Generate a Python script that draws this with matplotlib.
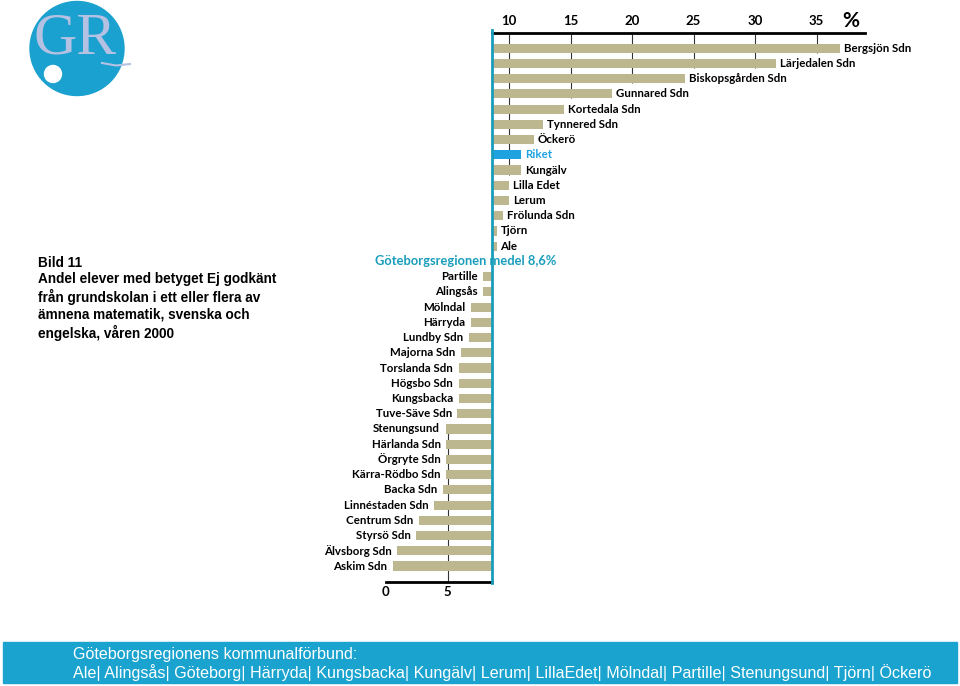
import numpy as np
import matplotlib.pyplot as plt
from matplotlib.patches import Circle, Rectangle

# values in % (pupils without pass grade)
top_names = ['Bergsjön Sdn', 'Lärjedalen Sdn', 'Biskopsgården Sdn', 'Gunnared Sdn',
             'Kortedala Sdn', 'Tynnered Sdn', 'Öckerö', 'Riket', 'Kungälv',
             'Lilla Edet', 'Lerum', 'Frölunda Sdn', 'Tjörn', 'Ale']
top_vals = [36.9, 31.7, 24.3, 18.4, 14.5, 12.8, 12.0, 11.0, 11.0, 10.0, 10.0, 9.5, 9.0, 9.0]

low_names = ['Partille', 'Alingsås', 'Mölndal', 'Härryda', 'Lundby Sdn',
             'Majorna Sdn', 'Torslanda Sdn', 'Högsbo Sdn', 'Kungsbacka', 'Tuve-Säve Sdn',
             'Stenungsund', 'Härlanda Sdn', 'Örgryte Sdn', 'Kärra-Rödbo Sdn', 'Backa Sdn',
             'Linnéstaden Sdn', 'Centrum Sdn', 'Styrsö Sdn', 'Älvsborg Sdn', 'Askim Sdn']
low_vals = [7.9, 7.9, 6.9, 6.9, 6.75, 6.1, 5.9, 5.9, 5.9, 5.8,
            4.85, 4.9, 4.9, 4.9, 4.6, 3.9, 2.7, 2.45, 0.9, 0.55]

medel = 8.6
medel_label = 'Göteborgsregionen medel 8,6%'
top_ticks = [10, 15, 20, 25, 30, 35]
low_ticks = [0, 5]

title = ('Bild 11\nAndel elever med betyget Ej godkänt\nfrån grundskolan i ett eller flera av\n'
         'ämnena matematik, svenska och\nengelska, våren 2000')
footer1 = 'Göteborgsregionens kommunalförbund:'
footer2 = ('Ale| Alingsås| Göteborg| Härryda| Kungsbacka| Kungälv| Lerum| LillaEdet| '
           'Mölndal| Partille| Stenungsund| Tjörn| Öckerö')

khaki = '#bdb78f'
teal = '#1a9dbb'
blue = '#1ea2e0'
band = '#1aa3cf'
lab_font = 'Lato'

fig = plt.figure(figsize=(9.6, 6.86), dpi=100)

# background layer in pixel coordinates for logo, title and footer
bg = fig.add_axes([0, 0, 1, 1])
bg.set_xlim(0, 960)
bg.set_ylim(686, 0)
bg.axis('off')

bg.add_patch(Circle((77, 48.5), 47, color='#1ba1cf'))
bg.add_patch(Circle((53, 74), 8.5, color='white'))
bg.text(75, 40, 'GR', fontsize=43, family='Liberation Serif', color='#b5c1e2',
        ha='center', va='center')
bg.plot([102, 116, 130], [63, 65.5, 64], color='#b5c1e2', lw=1.5)

bg.text(38, 256, title, ha='left', va='top', fontsize=9.8, fontweight='bold',
        family='Liberation Sans', linespacing=1.22)

bg.add_patch(Rectangle((3, 642), 954, 41, color=band))
bg.text(73, 654, footer1, ha='left', va='center', fontsize=11.6, color='white',
        family='Liberation Sans')
bg.text(73, 673, footer2, ha='left', va='center', fontsize=11.6, color='white',
        family='Liberation Sans')

# main chart
ax = fig.add_axes([386 / 960, 1 - 581.7 / 686, 478.5 / 960, 549 / 686])
ax.set_facecolor('none')
xmax = 38.9
ytop, ybot = -1.02, 35.03
ax.set_xlim(0, xmax)
ax.set_ylim(ybot, ytop)

top_y = np.arange(len(top_names))
low_y = np.arange(len(low_names)) + len(top_names) + 1
top_arr = np.array(top_vals)
low_arr = np.array(low_vals)

colors = [blue if n == 'Riket' else khaki for n in top_names]
ax.barh(top_y, top_arr - medel, left=medel, height=0.6, color=colors, zorder=2)
ax.barh(low_y, medel - low_arr, left=low_arr, height=0.6, color=khaki, zorder=2)

# grid lines only reach the bars crossing them
for t in top_ticks:
    idx = np.where(top_arr > t)[0]
    if len(idx):
        ax.vlines(t, ytop, top_y[idx.max()] + 0.3, color='#333333', lw=0.8, zorder=1)
for t in low_ticks[1:]:
    idx = np.where(low_arr < t)[0]
    if len(idx):
        ax.vlines(t, low_y[idx.min()] - 0.3, ybot, color='#333333', lw=0.8, zorder=1)

for y, n, v in zip(top_y, top_names, top_vals):
    ax.text(v + 0.3, y, n, ha='left', va='center', fontsize=8.3, fontweight='bold',
            family=lab_font, color=blue if n == 'Riket' else 'black', zorder=3)
for y, n, v in zip(low_y, low_names, low_vals):
    ax.text(v - 0.45, y, n, ha='right', va='center', fontsize=8.3, fontweight='bold',
            family=lab_font, color='black', zorder=3)

ax.text(6.46, len(top_names), medel_label, ha='center', va='center', fontsize=9.3,
        fontweight='bold', family=lab_font, color=teal, zorder=3)

ax.axvline(medel, ymin=-0.003, ymax=1.005, color=teal, lw=2.0, zorder=4, clip_on=False)

for s in ['left', 'right']:
    ax.spines[s].set_visible(False)
ax.spines['top'].set_bounds(medel, xmax)
ax.spines['bottom'].set_bounds(0, medel)
ax.spines['top'].set_linewidth(2)
ax.spines['bottom'].set_linewidth(2)
ax.set_yticks([])
ax.set_xticks(low_ticks)
ax.set_xticklabels([str(t) for t in low_ticks], fontsize=9.5, fontweight='bold', family=lab_font)
ax.tick_params(axis='x', length=0, pad=3)

sec = ax.secondary_xaxis('top')
sec.set_xticks(top_ticks)
sec.set_xticklabels([str(t) for t in top_ticks], fontsize=9.5, fontweight='bold', family=lab_font)
sec.tick_params(length=0, pad=4)
for s in sec.spines.values():
    s.set_visible(False)

ax.text(37.8, 1.004, '%', transform=ax.get_xaxis_transform(), ha='center', va='bottom',
        fontsize=15, fontweight='bold', family=lab_font)

fig.savefig('out.png', dpi=100)
